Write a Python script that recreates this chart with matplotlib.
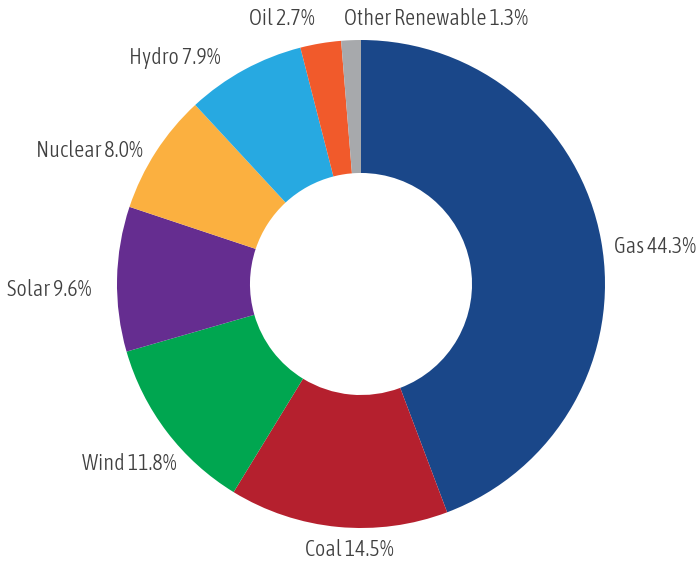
import numpy as np
from matplotlib import pyplot as plt

# Electricity generation mix
sources = ['Gas', 'Coal', 'Wind', 'Solar', 'Nuclear', 'Hydro', 'Oil', 'Other Renewable']
shares = [44.3, 14.5, 11.8, 9.6, 8.0, 7.9, 2.7, 1.3]
colors = ['#1a4789', '#b5202e', '#00a650', '#652d90', '#fbb040', '#27a9e1', '#f15a2b', '#a7a9ac']

plt.rcParams['font.family'] = ['Asap Condensed', 'DejaVu Sans']

fig = plt.figure(figsize=(6.98, 5.67), dpi=100)
ax = fig.add_axes([0, 0, 1, 1])
wedges, _ = ax.pie(shares, colors=colors, startangle=90, counterclock=False,
                   radius=1.0, wedgeprops=dict(width=0.545, linewidth=0))

# place the donut like in the original (centre ~ (361, 284) px, radius ~244 px)
ax.set_xlim(-361 / 244, 337 / 244)
ax.set_ylim(-283 / 244, 284 / 244)
ax.set_aspect('equal')
ax.axis('off')

# label offsets (pixels) from the outer edge of each wedge's mid angle
label_layout = [
    ('left', (13, -7)),
    ('center', (11, -23)),
    ('right', (10, -32)),
    ('right', (-26, -11)),
    ('right', (-13, 1)),
    ('right', (-24, 12)),
    ('right', (-6, 24)),
    ('left', (-7, 21)),
]

for w, name, val, (ha, (dx, dy)) in zip(wedges, sources, shares, label_layout):
    ang = np.deg2rad((w.theta1 + w.theta2) / 2)
    ax.annotate(f'{name} {val:.1f}%', xy=(np.cos(ang), np.sin(ang)),
                xytext=(dx * 0.72, dy * 0.72), textcoords='offset points',
                ha=ha, va='center', fontsize=16, fontweight=300, color='#404040')

fig.savefig('out.png', dpi=100)
